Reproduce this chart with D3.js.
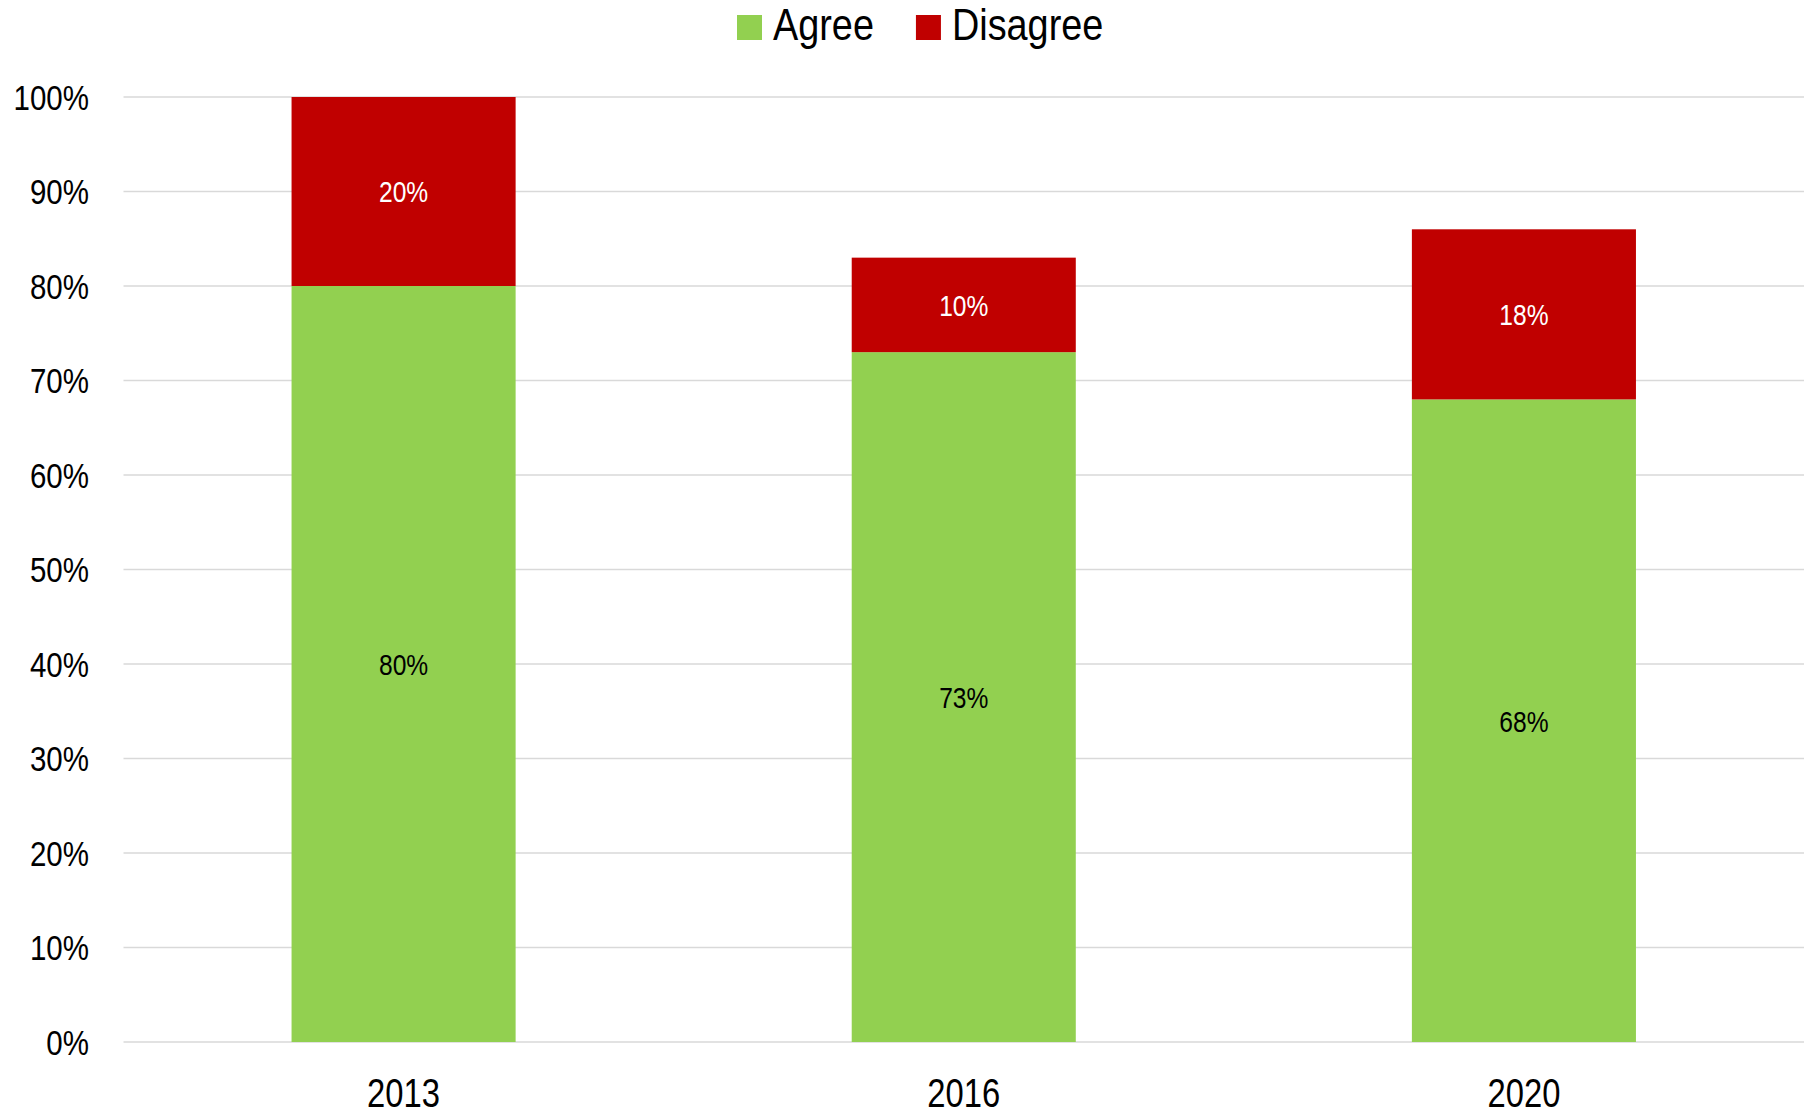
<!DOCTYPE html>
<html>
<head>
<meta charset="utf-8">
<script src="https://cdn.jsdelivr.net/npm/d3@7"></script>
<style>
  body { margin: 0; background: #fff; }
  svg text { font-family: "Liberation Sans Narrow", "Arial Narrow", "Liberation Sans", Arial, sans-serif; }
</style>
</head>
<body>
<div id="chart"></div>
<script>
// chart data
const years = ["2013", "2016", "2020"];
const agree = [80, 73, 68];
const disagree = [20, 10, 18];
const seriesNames = ["Agree", "Disagree"];
const yTicks = [0, 10, 20, 30, 40, 50, 60, 70, 80, 90, 100];

const colors = {Agree: "#92d050", Disagree: "#c00000"};
const labelColors = {Agree: "#000", Disagree: "#fff"};

const width = 1810, height = 1113;
const margin = {top: 97, right: 6, bottom: 71, left: 123.5};
// no narrow font installed, so squeeze the regular one horizontally
const narrow = 0.82;

const svg = d3.select("#chart")
    .append("svg")
    .attr("width", width)
    .attr("height", height);

const x = d3.scaleBand()
    .domain(years)
    .range([margin.left, width - margin.right])
    .paddingInner(0.6)
    .paddingOuter(0.3);

const y = d3.scaleLinear()
    .domain([0, 100])
    .range([height - margin.bottom, margin.top]);

const place = (px, py, sx = narrow) => `translate(${px},${py}) scale(${sx},1)`;

// gridlines
svg.append("g")
    .selectAll("line")
    .data(yTicks)
    .join("line")
    .attr("x1", margin.left)
    .attr("x2", width - margin.right)
    .attr("y1", d => y(d))
    .attr("y2", d => y(d))
    .attr("stroke", "#d9d9d9")
    .attr("stroke-width", 1.5);

// y tick labels
svg.append("g")
    .selectAll("text")
    .data(yTicks)
    .join("text")
    .attr("transform", d => place(89, y(d)))
    .attr("dy", "0.36em")
    .attr("text-anchor", "end")
    .style("font-size", "36px")
    .text(d => d + "%");

// stacked bars
const rows = years.map((yr, i) => ({year: yr, Agree: agree[i], Disagree: disagree[i]}));
const stacked = d3.stack().keys(seriesNames)(rows);

const groups = svg.append("g")
    .selectAll("g")
    .data(stacked)
    .join("g")
    .attr("fill", d => colors[d.key]);

groups.selectAll("rect")
    .data(d => d)
    .join("rect")
    .attr("x", d => x(d.data.year))
    .attr("width", x.bandwidth())
    .attr("y", d => y(d[1]))
    .attr("height", d => y(d[0]) - y(d[1]));

// value labels in the middle of each segment
groups.selectAll("text")
    .data(d => d.map(v => ({key: d.key, v})))
    .join("text")
    .attr("transform", d => place(x(d.v.data.year) + x.bandwidth() / 2, y((d.v[0] + d.v[1]) / 2)))
    .attr("dy", "0.36em")
    .attr("text-anchor", "middle")
    .attr("fill", d => labelColors[d.key])
    .style("font-size", "30px")
    .text(d => (d.v[1] - d.v[0]) + "%");

// category labels
svg.append("g")
    .selectAll("text")
    .data(years)
    .join("text")
    .attr("transform", d => place(x(d) + x.bandwidth() / 2, 1107))
    .attr("text-anchor", "middle")
    .style("font-size", "40px")
    .text(d => d);

// legend
const legend = svg.append("g").attr("transform", "translate(737,0)");
let lx = 0;
seriesNames.forEach(name => {
    legend.append("rect")
        .attr("x", lx)
        .attr("y", 15)
        .attr("width", 25)
        .attr("height", 25)
        .attr("fill", colors[name]);
    const t = legend.append("text")
        .attr("transform", place(lx + 36, 40, 0.86))
        .style("font-size", "44px")
        .text(name);
    lx += 36 + t.node().getComputedTextLength() * 0.86 + 42;
});
</script>
</body>
</html>
